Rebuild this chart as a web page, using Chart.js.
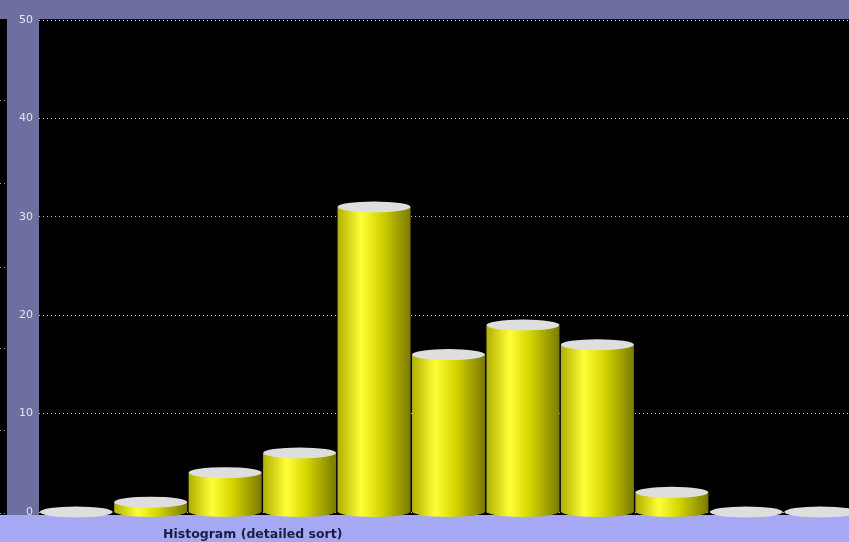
<!DOCTYPE html>
<html>
<head>
<meta charset="utf-8">
<script src="https://cdn.jsdelivr.net/npm/chart.js@4/dist/chart.umd.min.js"></script>
<style>
  html, body { margin: 0; padding: 0; background: #000; overflow: hidden; }
  #wrap { width: 849px; height: 542px; overflow: hidden; }
  #wrap div { width: 858px; height: 542px; }
</style>
</head>
<body>
<div id="wrap"><div><canvas id="histChart"></canvas></div></div>
<script>
// histogram bins and counts
const bins = ['1', '2', '3', '4', '5', '6', '7', '8', '9', '10', '11'];
const counts = [0, 1, 4, 6, 31, 16, 19, 17, 2, 0, 0];
const yTicks = [0, 10, 20, 30, 40, 50];
const chartTitle = 'Histogram (detailed sort)';

// backgrounds: bands round the black plot
const backdrop = {
  id: 'backdrop',
  beforeDraw(chart) {
    const ctx = chart.ctx;
    const a = chart.chartArea;
    ctx.save();
    ctx.fillStyle = '#000';
    ctx.fillRect(0, 0, chart.width, chart.height);
    ctx.fillStyle = '#6d6fa1';
    ctx.fillRect(0, 0, chart.width, a.top - 1);
    ctx.fillRect(7, 0, a.left - 7, chart.height);
    // dotted marks of the panel behind, on the far left
    ctx.strokeStyle = '#9a9a9a';
    ctx.setLineDash([1, 3]);
    [100, 183, 267, 348, 430, 513].forEach(y => {
      ctx.beginPath();
      ctx.moveTo(0, y + 0.5);
      ctx.lineTo(7, y + 0.5);
      ctx.stroke();
    });
    ctx.setLineDash([]);
    ctx.fillStyle = '#a6a8f4';
    ctx.fillRect(0, a.bottom + 3, chart.width, chart.height - a.bottom);
    ctx.restore();
  }
};

// draws each bar as a cylinder from the bar element geometry
const cylinders = {
  id: 'cylinders',
  afterDatasetsDraw(chart) {
    const ctx = chart.ctx;
    const meta = chart.getDatasetMeta(0);
    const ry = 5.5;
    ctx.save();
    meta.data.forEach(bar => {
      const p = bar.getProps(['x', 'y', 'base', 'width'], true);
      const l = p.x - p.width / 2, r = p.x + p.width / 2, rx = p.width / 2;
      if (p.base - p.y > 0.5) {
        const g = ctx.createLinearGradient(l, 0, r, 0);
        g.addColorStop(0, '#b0b000');
        g.addColorStop(0.32, '#ffff38');
        g.addColorStop(0.6, '#d4d400');
        g.addColorStop(1, '#7a7a00');
        ctx.fillStyle = g;
        ctx.beginPath();
        ctx.moveTo(l, p.y);
        ctx.lineTo(l, p.base);
        ctx.ellipse(p.x, p.base, rx, ry, 0, Math.PI, 0, true);
        ctx.lineTo(r, p.y);
        ctx.closePath();
        ctx.fill();
      }
      ctx.fillStyle = '#dedede';
      ctx.beginPath();
      ctx.ellipse(p.x, p.y, rx, ry, 0, 0, Math.PI * 2);
      ctx.fill();
    });
    ctx.restore();
  },
  afterDraw(chart) {
    const ctx = chart.ctx;
    ctx.save();
    ctx.fillStyle = '#1c1c44';
    ctx.font = 'bold 12.5px "DejaVu Sans"';
    ctx.textBaseline = 'middle';
    ctx.fillText(chartTitle, 163, 535);
    ctx.restore();
  }
};

const histData = {
  labels: bins,
  datasets: [{
    label: 'count',
    data: counts,
    backgroundColor: 'rgba(0,0,0,0)',
    borderWidth: 0,
    barPercentage: 0.98,
    categoryPercentage: 1.0
  }]
};

const histConfig = {
  type: 'bar',
  data: histData,
  plugins: [backdrop, cylinders],
  options: {
    responsive: false,
    animation: false,
    layout: { padding: { top: 20, bottom: 30, left: 0, right: 0 } },
    plugins: { legend: { display: false }, tooltip: { enabled: false } },
    scales: {
      x: {
        display: false
      },
      y: {
        min: 0,
        max: 50,
        afterFit(scale) { scale.width = 39; },
        afterBuildTicks(scale) { scale.ticks = yTicks.map(v => ({ value: v })); },
        border: { display: false, dash: [1, 3] },
        grid: { color: '#bdbdbd', lineWidth: 1, drawTicks: false },
        ticks: {
          color: '#e4e4ee',
          padding: 6,
          font: { family: '"DejaVu Sans"', size: 11 }
        }
      }
    }
  }
};

const canvas = document.getElementById('histChart');
canvas.width = 858;
canvas.height = 542;
var histChart = new Chart(canvas, histConfig);
</script>
</body>
</html>
